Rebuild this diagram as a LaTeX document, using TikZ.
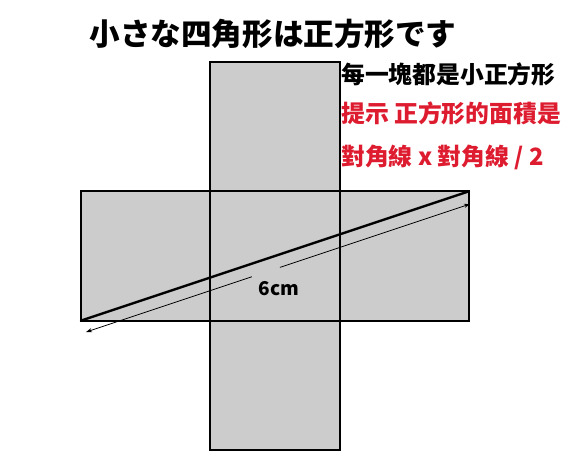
\documentclass[tikz,border=0pt]{standalone}
\usepackage{fontspec}
\usetikzlibrary{arrows.meta,calc}
\newfontfamily\jpfont{Noto Sans CJK JP}
\newfontfamily\tcfont{Noto Sans CJK TC}
\definecolor{boxgray}{RGB}{204,204,204}
\definecolor{hintred}{RGB}{222,28,48}
\def\side{129.3}
\def\cell#1#2{\draw[cellbox] (81+\side*#1,62+\side*#2) rectangle ++(\side,\side);}

\begin{document}
\begin{tikzpicture}[x=1pt,y=-1pt,
    cellbox/.style={fill=boxgray,draw=black,line width=1.8pt},
    diag/.style={line width=2.4pt,line cap=round},
    measure/.style={line width=0.8pt},
    note/.style={anchor=west,inner sep=0pt,font=\tcfont\bfseries\fontsize{23.8}{25}\selectfont}]
\useasboundingbox (0,0) rectangle (568,459);
% the five squares
\cell{1}{0}
\cell{0}{1} \cell{1}{1} \cell{2}{1}
\cell{1}{2}
% diagonal of the long rectangle
\coordinate (dl) at (81,320.6);
\coordinate (dr) at (469,191.3);
\draw[diag] (dl) -- (dr);
% length mark
\coordinate (al) at (86,332);
\coordinate (ar) at (470,204);
\coordinate (g1) at ($(al)!0.432!(ar)$);
\coordinate (g2) at ($(al)!0.505!(ar)$);
\draw[measure,{Stealth[length=6pt,width=4pt]}-] (al) -- (g1);
\draw[measure,-{Stealth[length=6pt,width=4pt]}] (g2) -- (ar);
\node[font=\tcfont\bfseries\fontsize{19}{20}\selectfont] (len) at (279,289) {6cm};
% texts
\node[font=\jpfont\bfseries\fontsize{30.6}{32}\selectfont] (title) at (273,34) {小さな四角形は正方形です};
\node[note] (every) at (341,74) {每一塊都是小正方形};
\node[note,text=hintred] (hint) at (341,113) {提示 正方形的面積是};
\node[note,text=hintred] (rule) at (341,157) {對角線 x 對角線 / 2};
\end{tikzpicture}
\end{document}
